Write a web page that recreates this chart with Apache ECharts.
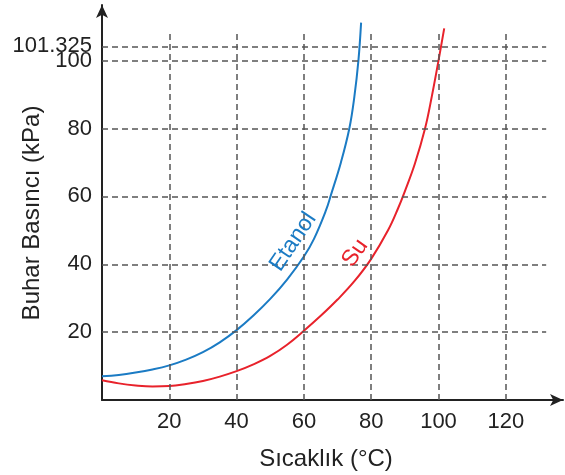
<!DOCTYPE html>
<html>
<head>
<meta charset="utf-8">
<script src="https://cdn.jsdelivr.net/npm/echarts@6/dist/echarts.min.js"></script>
<style>
html,body{margin:0;padding:0;background:#fff;}
#chart{width:565px;height:475px;}
</style>
</head>
<body>
<div id="chart"></div>
<script>
//数据
var tempEtanol = [0, 5, 10, 15, 20, 25, 30, 35, 40, 45, 50, 55, 60, 63, 66.6, 68, 71, 73.5, 75, 76.2, 77];
var presEtanol = [7.0, 7.4, 8.1, 9.0, 10.2, 11.9, 14.1, 17.0, 20.6, 24.9, 29.8, 35.5, 42.3, 47.5, 56, 60.3, 70, 80, 89.4, 100, 111.2];
var tempSu = [0, 5, 10, 15, 20, 25, 30, 35, 40, 45, 50, 55, 60, 65, 70, 75, 80, 85, 88, 90, 93, 96, 98, 100, 101.7];
var presSu = [5.8, 4.9, 4.3, 4.0, 4.1, 4.7, 5.6, 6.9, 8.5, 10.5, 13, 16.3, 20.4, 24.8, 29.6, 35, 41.6, 50, 56.5, 61.5, 69.7, 80, 89.4, 100, 109.5];
var gridX = [20, 40, 60, 80, 100, 120];
var gridY = [20, 40, 60, 80, 100];
var atmLevel = 104.2;      // 101.325 çizgisi (ölçeksiz çizilmiş)
var atmLabel = '101.325';
var gridTop = 109;
var gridRight = 132;

var font = 'Liberation Sans';
var blue = '#1b7bc4';
var red = '#e8222b';
var dash = '#555';

function pairs(xs, ys){
	var out = [];
	for(var i = 0;i<xs.length;i++){
		out.push([xs[i], ys[i]]);
	}
	return out;
}

function gridLines(){
	var lines = [];
	for(var i = 0;i<gridX.length;i++){
		lines.push([{coord:[gridX[i],0]},{coord:[gridX[i],gridTop]}]);
	}
	for(var i = 0;i<gridY.length;i++){
		lines.push([{coord:[0,gridY[i]]},{coord:[gridRight,gridY[i]]}]);
	}
	lines.push([
		{coord:[0,atmLevel], label:{show:true, position:'start', formatter:atmLabel, fontFamily:font, fontSize:22, color:'#222', distance:10}},
		{coord:[gridRight,atmLevel]}
	]);
	return lines;
}

function ChartInit(chartid){
	var myChart = echarts.init(document.getElementById(chartid));
	var option = {
		animation: false,
		grid: {left: 102, top: 5, width: 461, height: 395, outerBoundsMode: 'none', containLabel: false},
		xAxis: {
			type: 'value',
			min: 0, max: 137, interval: 20,
			name: 'Sıcaklık (°C)',
			nameLocation: 'middle',
			nameGap: 47,
			nameTextStyle: {fontFamily: font, fontSize: 24, color: '#222', padding: [0, 13, 0, 0]},
			axisLine: {show: true, symbol: ['none','arrow'], symbolSize: [9,13], lineStyle: {color: '#222', width: 2}},
			axisTick: {show: false},
			splitLine: {show: false},
			axisLabel: {
				fontFamily: font, fontSize: 22, color: '#222', margin: 11,
				formatter: function(v){ return gridX.indexOf(v) >= 0 ? v : ''; }
			}
		},
		yAxis: {
			type: 'value',
			min: 0, max: 116.4, interval: 20,
			name: 'Buhar Basıncı (kPa)',
			nameLocation: 'middle',
			nameGap: 56,
			nameTextStyle: {fontFamily: font, fontSize: 24, color: '#222', padding: [0, 21, 0, 0]},
			axisLine: {show: true, symbol: ['none','arrow'], symbolSize: [9,13], lineStyle: {color: '#222', width: 2}},
			axisTick: {show: false},
			splitLine: {show: false},
			axisLabel: {
				fontFamily: font, fontSize: 22, color: '#222', margin: 10,
				formatter: function(v){ return gridY.indexOf(v) >= 0 ? v : ''; }
			}
		},
		series: [
			{
				name: 'Su',
				type: 'line',
				data: pairs(tempSu, presSu),
				smooth: 0.4,
				clip: false,
				showSymbol: false,
				lineStyle: {color: red, width: 2},
				z: 3,
				markLine: {
					silent: true,
					symbol: ['none','none'],
					label: {show: false},
					lineStyle: {color: dash, width: 1.5, type: [6,4]},
					data: gridLines()
				},
				markPoint: {
					silent: true,
					symbol: 'circle',
					symbolSize: 0,
					data: [{coord: [75.2, 43.3]}],
					label: {show: true, position: 'inside', formatter: 'Su', rotate: 55, fontFamily: font, fontSize: 23, color: red}
				}
			},
			{
				name: 'Etanol',
				type: 'line',
				data: pairs(tempEtanol, presEtanol),
				smooth: 0.4,
				clip: false,
				showSymbol: false,
				lineStyle: {color: blue, width: 2},
				z: 3,
				markPoint: {
					silent: true,
					symbol: 'circle',
					symbolSize: 0,
					data: [{coord: [56.8, 46.6]}],
					label: {show: true, position: 'inside', formatter: 'Etanol', rotate: 56, fontFamily: font, fontSize: 23, color: blue}
				}
			}
		]
	};
	myChart.setOption(option);
	return myChart;
}

ChartInit('chart');
</script>
</body>
</html>
